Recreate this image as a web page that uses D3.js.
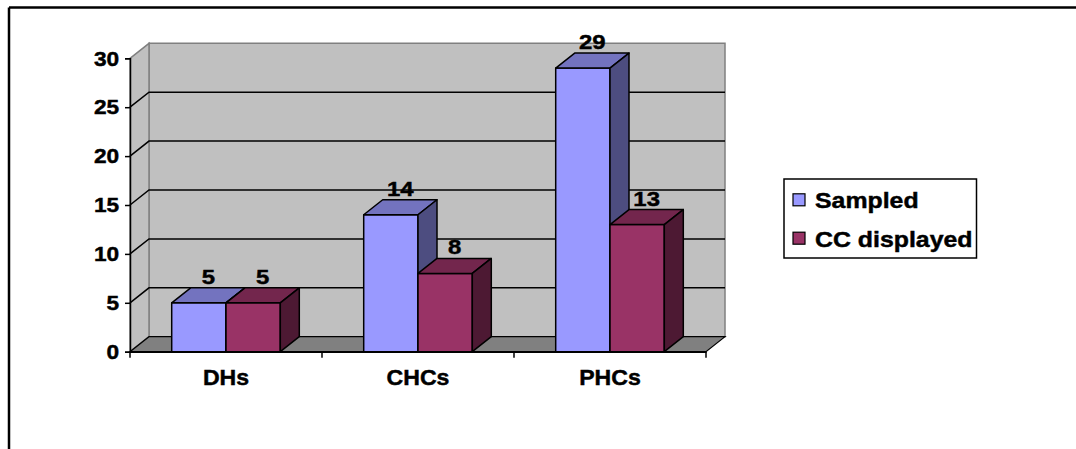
<!DOCTYPE html>
<html>
<head>
<meta charset="utf-8">
<script src="https://cdn.jsdelivr.net/npm/d3@7"></script>
<style>
  html, body { margin: 0; padding: 0; background: #fff; }
  svg { display: block; }
  text { font-family: "Liberation Sans", Arial, sans-serif; font-weight: bold; fill: #000;
         stroke: #000; stroke-width: 0.45px; }
</style>
</head>
<body>
<svg id="chart" width="1076" height="449"></svg>
<script>
// Data
const categories = ["DHs", "CHCs", "PHCs"];
const seriesNames = ["Sampled", "CC displayed"];
const sampled = [5, 14, 29];
const ccDisplayed = [5, 8, 13];
const yTicks = [0, 5, 10, 15, 20, 25, 30];

// Face colours per series: front, top, side
const palette = {
  "Sampled": { front: "#9999FF", top: "#7373BF", side: "#4D4D80" },
  "CC displayed": { front: "#993366", top: "#73264D", side: "#4D1933" }
};

const svg = d3.select("#chart");
const W = 1076, H = 449;

// Plot geometry (front plane) and 3D depth offset
const plotL = 130, plotR = 706, plotB = 351.7, plotT = 58.3;
const dx = 19, dy = -15;

const x = d3.scaleBand().domain(categories).range([plotL, plotR]).padding(0);
const xs = d3.scaleBand().domain(seriesNames).range([0, x.bandwidth()])
  .paddingInner(0).paddingOuter(0.768);
const y = d3.scaleLinear().domain([0, 30]).range([plotB, plotT]);

const rows = categories.map((c, i) => ({
  cat: c,
  vals: [
    { name: "Sampled", value: sampled[i] },
    { name: "CC displayed", value: ccDisplayed[i] }
  ]
}));

// Outer frame (top and left edges visible)
svg.append("line").attr("x1", 9).attr("y1", 7.5).attr("x2", W).attr("y2", 7.5)
  .attr("stroke", "#000").attr("stroke-width", 2.5);
svg.append("line").attr("x1", 9).attr("y1", 7.5).attr("x2", 9).attr("y2", H)
  .attr("stroke", "#000").attr("stroke-width", 2.5);

const g = svg.append("g");
const pts = p => p.map(d => d.join(",")).join(" ");

// Back wall
g.append("polygon")
  .attr("points", pts([[plotL + dx, y(30) + dy], [plotR + dx, y(30) + dy], [plotR + dx, y(0) + dy], [plotL + dx, y(0) + dy]]))
  .attr("fill", "#C0C0C0").attr("stroke", "#808080").attr("stroke-width", 1.5);
// Side wall
g.append("polygon")
  .attr("points", pts([[plotL, y(30)], [plotL + dx, y(30) + dy], [plotL + dx, y(0) + dy], [plotL, y(0)]]))
  .attr("fill", "#C0C0C0").attr("stroke", "#808080").attr("stroke-width", 1.5);
// Floor
g.append("polygon")
  .attr("points", pts([[plotL, y(0)], [plotR, y(0)], [plotR + dx, y(0) + dy], [plotL + dx, y(0) + dy]]))
  .attr("fill", "#808080").attr("stroke", "#000").attr("stroke-width", 1.2);

// Gridlines: diagonal on the side wall, horizontal on the back wall
yTicks.filter(t => t > 0 && t < 30).forEach(t => {
  g.append("polyline")
    .attr("points", pts([[plotL, y(t)], [plotL + dx, y(t) + dy], [plotR + dx, y(t) + dy]]))
    .attr("fill", "none").attr("stroke", "#000").attr("stroke-width", 1.5);
});

// Axes
const yAxis = d3.axisLeft(y).tickValues(yTicks).tickSize(5).tickPadding(5);
const yg = g.append("g").attr("transform", `translate(${plotL},0)`).call(yAxis);
yg.select(".domain").attr("stroke", "#000").attr("stroke-width", 1.5);
yg.selectAll(".tick line").attr("stroke", "#000").attr("stroke-width", 1.5);
yg.selectAll(".tick text").attr("font-size", 21).attr("font-family", null).attr("fill", "#000")
  .attr("transform", "scale(1.08,1)");

const xAxis = d3.axisBottom(x).tickSize(0).tickPadding(17.7);
const xg = g.append("g").attr("transform", `translate(0,${plotB})`).call(xAxis);
xg.select(".domain").attr("stroke", "#000").attr("stroke-width", 1.5);
xg.selectAll(".tick text").attr("font-size", 22).attr("font-family", null).attr("fill", "#000")
  .attr("transform", "scale(1.05,1)");
// Category separators below the axis
const sepPos = [plotL].concat(categories.map(c => x(c) + x.bandwidth()));
xg.selectAll(".sep").data(sepPos).enter().append("line")
  .attr("x1", d => d).attr("x2", d => d).attr("y1", 0).attr("y2", 6)
  .attr("stroke", "#000").attr("stroke-width", 1.5);

// 3D columns
const bars = g.append("g");
rows.forEach(r => {
  r.vals.forEach(v => {
    const x0 = x(r.cat) + xs(v.name), x1 = x0 + xs.bandwidth();
    const yt = y(v.value), yb = y(0);
    const c = palette[v.name];
    const bg = bars.append("g").attr("stroke", "#000").attr("stroke-width", 1.5).attr("stroke-linejoin", "round");
    bg.append("polygon").attr("fill", c.front)
      .attr("points", pts([[x0, yt], [x1, yt], [x1, yb], [x0, yb]]));
    bg.append("polygon").attr("fill", c.top)
      .attr("points", pts([[x0, yt], [x0 + dx, yt + dy], [x1 + dx, yt + dy], [x1, yt]]));
    bg.append("polygon").attr("fill", c.side)
      .attr("points", pts([[x1, yt], [x1 + dx, yt + dy], [x1 + dx, yb + dy], [x1, yb]]));
  });
});

// Value labels
rows.forEach(r => {
  r.vals.forEach(v => {
    const cx = x(r.cat) + xs(v.name) + xs.bandwidth() / 2 + dx / 2;
    g.append("text")
      .attr("transform", `translate(${cx},${y(v.value) + dy - 4}) scale(1.14,1)`)
      .attr("text-anchor", "middle").attr("font-size", 21)
      .text(v.value);
  });
});

// Legend
const lg = svg.append("g");
lg.append("rect").attr("x", 784).attr("y", 179).attr("width", 192.5).attr("height", 79)
  .attr("fill", "#fff").attr("stroke", "#000").attr("stroke-width", 1.5);
seriesNames.forEach((s, i) => {
  const base = 208.3 + i * 38.4;
  lg.append("rect").attr("x", 793).attr("y", base - 14.5).attr("width", 12).attr("height", 12)
    .attr("fill", palette[s].front).attr("stroke", "#000").attr("stroke-width", 1.2);
  lg.append("text").attr("transform", `translate(815,${base}) scale(1.13,1)`)
    .attr("font-size", 22).text(s);
});
</script>
</body>
</html>
